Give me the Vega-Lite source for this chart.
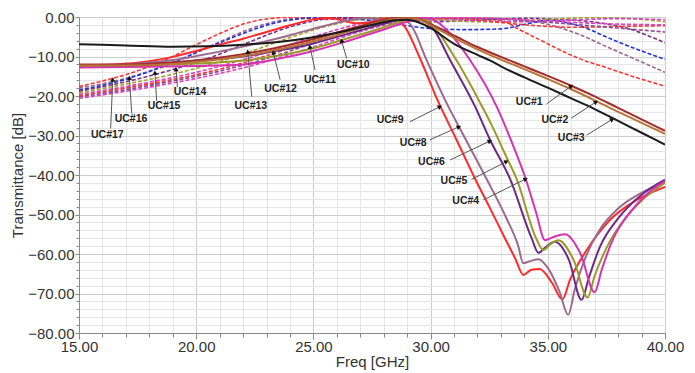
{
  "$schema": "https://vega.github.io/schema/vega-lite/v6.json",
  "width": 586,
  "height": 316,
  "autosize": {"type": "none"},
  "padding": {"left": 79, "top": 17, "right": 30, "bottom": 40},
  "background": "white",
  "config": {"font": "Liberation Sans", "view": {"stroke": "#a8a8a8", "strokeWidth": 1},
    "axis": {"labelOverlap": false, "labelFlush": false, "labelBound": false, "labelFontSize": 15, "labelColor": "#333", "titleFontSize": 15, "titleFontWeight": "normal", "titleColor": "#333", "domainColor": "#8a8a8a", "tickColor": "#8a8a8a", "grid": true}},
  "datasets": {
    "solid": [
      {"s":"UC#9","f":15,"t":-12.2},{"s":"UC#9","f":16.5,"t":-12},{"s":"UC#9","f":18,"t":-11.2},{"s":"UC#9","f":19,"t":-10.1},{"s":"UC#9","f":20,"t":-8.6},{"s":"UC#9","f":21,"t":-7},{"s":"UC#9","f":22,"t":-5.5},{"s":"UC#9","f":23,"t":-3.8},{"s":"UC#9","f":24,"t":-2.1},{"s":"UC#9","f":25,"t":-0.6},{"s":"UC#9","f":25.6,"t":-0.2},{"s":"UC#9","f":26.2,"t":-0.8},{"s":"UC#9","f":26.8,"t":-1.6},{"s":"UC#9","f":27.4,"t":-1.4},{"s":"UC#9","f":28,"t":-0.4},{"s":"UC#9","f":28.5,"t":-0.5},{"s":"UC#9","f":28.9,"t":-2.5},{"s":"UC#9","f":29.55,"t":-10.5},{"s":"UC#9","f":30.33,"t":-21.5},{"s":"UC#9","f":31.1,"t":-31},{"s":"UC#9","f":31.9,"t":-41},{"s":"UC#9","f":32.5,"t":-48},{"s":"UC#9","f":33.17,"t":-56},{"s":"UC#9","f":33.6,"t":-61},{"s":"UC#9","f":33.96,"t":-65.3},{"s":"UC#9","f":34.3,"t":-64},{"s":"UC#9","f":34.65,"t":-63.8},{"s":"UC#9","f":35.2,"t":-67.5},{"s":"UC#9","f":35.62,"t":-71.5},{"s":"UC#9","f":35.95,"t":-66.5},{"s":"UC#9","f":36.66,"t":-59},{"s":"UC#9","f":37.65,"t":-51.4},{"s":"UC#9","f":38.8,"t":-46.3},{"s":"UC#9","f":40,"t":-43},
      {"s":"UC#8","f":15,"t":-12.3},{"s":"UC#8","f":17,"t":-12},{"s":"UC#8","f":19,"t":-10.9},{"s":"UC#8","f":20,"t":-9.9},{"s":"UC#8","f":22,"t":-7.5},{"s":"UC#8","f":24,"t":-4.6},{"s":"UC#8","f":25.5,"t":-2.2},{"s":"UC#8","f":26.5,"t":-0.8},{"s":"UC#8","f":27.2,"t":-0.2},{"s":"UC#8","f":27.8,"t":-0.7},{"s":"UC#8","f":28.4,"t":-0.4},{"s":"UC#8","f":28.9,"t":-0.7},{"s":"UC#8","f":29.2,"t":-2.4},{"s":"UC#8","f":29.83,"t":-10.9},{"s":"UC#8","f":30.76,"t":-22.7},{"s":"UC#8","f":31.21,"t":-27.8},{"s":"UC#8","f":32.39,"t":-41},{"s":"UC#8","f":33.2,"t":-50.5},{"s":"UC#8","f":33.74,"t":-58},{"s":"UC#8","f":33.95,"t":-62.3},{"s":"UC#8","f":34.25,"t":-61.8},{"s":"UC#8","f":34.6,"t":-61.3},{"s":"UC#8","f":35,"t":-63.5},{"s":"UC#8","f":35.5,"t":-69.5},{"s":"UC#8","f":35.87,"t":-75.4},{"s":"UC#8","f":36.15,"t":-69},{"s":"UC#8","f":36.6,"t":-61},{"s":"UC#8","f":37.2,"t":-54},{"s":"UC#8","f":38,"t":-48.5},{"s":"UC#8","f":39,"t":-44.5},{"s":"UC#8","f":40,"t":-41.8},
      {"s":"UC#6","f":15,"t":-12.5},{"s":"UC#6","f":18,"t":-12},{"s":"UC#6","f":20,"t":-11},{"s":"UC#6","f":22,"t":-10},{"s":"UC#6","f":23.5,"t":-8.5},{"s":"UC#6","f":25,"t":-6.7},{"s":"UC#6","f":26.5,"t":-4.2},{"s":"UC#6","f":27.84,"t":-2},{"s":"UC#6","f":28.8,"t":-0.6},{"s":"UC#6","f":29.3,"t":-0.2},{"s":"UC#6","f":29.7,"t":-0.9},{"s":"UC#6","f":30.1,"t":-2.9},{"s":"UC#6","f":30.83,"t":-10.9},{"s":"UC#6","f":31.9,"t":-22.7},{"s":"UC#6","f":32.53,"t":-31},{"s":"UC#6","f":33.39,"t":-41},{"s":"UC#6","f":34.31,"t":-56},{"s":"UC#6","f":34.6,"t":-59.7},{"s":"UC#6","f":34.9,"t":-58.3},{"s":"UC#6","f":35.3,"t":-56.9},{"s":"UC#6","f":35.9,"t":-61.5},{"s":"UC#6","f":36.44,"t":-71.6},{"s":"UC#6","f":36.75,"t":-66},{"s":"UC#6","f":37.2,"t":-58.5},{"s":"UC#6","f":38,"t":-51},{"s":"UC#6","f":39,"t":-45},{"s":"UC#6","f":40,"t":-41.2},
      {"s":"UC#5","f":15,"t":-12.5},{"s":"UC#5","f":18,"t":-12.2},{"s":"UC#5","f":20,"t":-11.8},{"s":"UC#5","f":22,"t":-11},{"s":"UC#5","f":23.5,"t":-9.8},{"s":"UC#5","f":25,"t":-7.9},{"s":"UC#5","f":26.5,"t":-5.3},{"s":"UC#5","f":27.84,"t":-2.9},{"s":"UC#5","f":28.8,"t":-1},{"s":"UC#5","f":29.4,"t":-0.2},{"s":"UC#5","f":29.9,"t":-1},{"s":"UC#5","f":30.26,"t":-3.3},{"s":"UC#5","f":31.1,"t":-10.9},{"s":"UC#5","f":32.2,"t":-22.7},{"s":"UC#5","f":32.6,"t":-27.3},{"s":"UC#5","f":33.24,"t":-35.5},{"s":"UC#5","f":33.67,"t":-41},{"s":"UC#5","f":34.5,"t":-56},{"s":"UC#5","f":34.8,"t":-59},{"s":"UC#5","f":35.1,"t":-57.6},{"s":"UC#5","f":35.45,"t":-56.5},{"s":"UC#5","f":36.1,"t":-61.5},{"s":"UC#5","f":36.7,"t":-71},{"s":"UC#5","f":37,"t":-65.5},{"s":"UC#5","f":37.5,"t":-58.5},{"s":"UC#5","f":38.3,"t":-51},{"s":"UC#5","f":39,"t":-46.5},{"s":"UC#5","f":40,"t":-42},
      {"s":"UC#4","f":15,"t":-12.8},{"s":"UC#4","f":18,"t":-12.6},{"s":"UC#4","f":20,"t":-12.4},{"s":"UC#4","f":22,"t":-12},{"s":"UC#4","f":23.5,"t":-10.6},{"s":"UC#4","f":25,"t":-8.6},{"s":"UC#4","f":26.5,"t":-6},{"s":"UC#4","f":27.84,"t":-3.5},{"s":"UC#4","f":29,"t":-1.2},{"s":"UC#4","f":29.7,"t":-0.2},{"s":"UC#4","f":30.2,"t":-0.9},{"s":"UC#4","f":30.69,"t":-3.3},{"s":"UC#4","f":31.68,"t":-10.9},{"s":"UC#4","f":32.82,"t":-22.7},{"s":"UC#4","f":33.45,"t":-31.5},{"s":"UC#4","f":34.06,"t":-41},{"s":"UC#4","f":34.5,"t":-49.5},{"s":"UC#4","f":34.88,"t":-56.5},{"s":"UC#4","f":35.2,"t":-55.8},{"s":"UC#4","f":35.73,"t":-55},{"s":"UC#4","f":36.4,"t":-60},{"s":"UC#4","f":37,"t":-69.7},{"s":"UC#4","f":37.3,"t":-64},{"s":"UC#4","f":37.8,"t":-56},{"s":"UC#4","f":38.5,"t":-49.5},{"s":"UC#4","f":39.2,"t":-45},{"s":"UC#4","f":40,"t":-41.5},
      {"s":"UC#1","f":15,"t":-12},{"s":"UC#1","f":17,"t":-12},{"s":"UC#1","f":19,"t":-11.5},{"s":"UC#1","f":20.5,"t":-10.6},{"s":"UC#1","f":22,"t":-9.4},{"s":"UC#1","f":24,"t":-7},{"s":"UC#1","f":25.5,"t":-4.8},{"s":"UC#1","f":26.8,"t":-2.6},{"s":"UC#1","f":27.8,"t":-1},{"s":"UC#1","f":28.6,"t":-0.2},{"s":"UC#1","f":29.3,"t":-0.3},{"s":"UC#1","f":30,"t":-1.8},{"s":"UC#1","f":31.1,"t":-5},{"s":"UC#1","f":32,"t":-7.6},{"s":"UC#1","f":33,"t":-10.1},{"s":"UC#1","f":34,"t":-12.5},{"s":"UC#1","f":35,"t":-14.9},{"s":"UC#1","f":36,"t":-17.4},{"s":"UC#1","f":37,"t":-20.1},{"s":"UC#1","f":38,"t":-23},{"s":"UC#1","f":39,"t":-25.9},{"s":"UC#1","f":40,"t":-28.8},
      {"s":"UC#2","f":15,"t":-12.3},{"s":"UC#2","f":17,"t":-12.3},{"s":"UC#2","f":19,"t":-11.9},{"s":"UC#2","f":20.5,"t":-11.1},{"s":"UC#2","f":22,"t":-9.9},{"s":"UC#2","f":24,"t":-7.6},{"s":"UC#2","f":25.5,"t":-5.4},{"s":"UC#2","f":26.8,"t":-3.1},{"s":"UC#2","f":27.8,"t":-1.4},{"s":"UC#2","f":28.6,"t":-0.4},{"s":"UC#2","f":29.3,"t":-0.4},{"s":"UC#2","f":30,"t":-2.1},{"s":"UC#2","f":31.1,"t":-5.6},{"s":"UC#2","f":32,"t":-8.2},{"s":"UC#2","f":33,"t":-10.8},{"s":"UC#2","f":34,"t":-13.2},{"s":"UC#2","f":35,"t":-15.7},{"s":"UC#2","f":36,"t":-18.3},{"s":"UC#2","f":37,"t":-21.1},{"s":"UC#2","f":38,"t":-24},{"s":"UC#2","f":39,"t":-26.8},{"s":"UC#2","f":40,"t":-29.6},
      {"s":"UC#3","f":15,"t":-6.9},{"s":"UC#3","f":17,"t":-7.2},{"s":"UC#3","f":19,"t":-7.5},{"s":"UC#3","f":20.5,"t":-7.4},{"s":"UC#3","f":22,"t":-7},{"s":"UC#3","f":23.5,"t":-6.3},{"s":"UC#3","f":25,"t":-5.1},{"s":"UC#3","f":26.3,"t":-3.6},{"s":"UC#3","f":27.5,"t":-2},{"s":"UC#3","f":28.5,"t":-0.8},{"s":"UC#3","f":29,"t":-0.7},{"s":"UC#3","f":29.5,"t":-1.4},{"s":"UC#3","f":30,"t":-2.8},{"s":"UC#3","f":31,"t":-6.8},{"s":"UC#3","f":32,"t":-9.6},{"s":"UC#3","f":32.53,"t":-11},{"s":"UC#3","f":33,"t":-12.5},{"s":"UC#3","f":34,"t":-15.3},{"s":"UC#3","f":35,"t":-17.9},{"s":"UC#3","f":36,"t":-20.6},{"s":"UC#3","f":37,"t":-23.3},{"s":"UC#3","f":38,"t":-26.3},{"s":"UC#3","f":39,"t":-29.3},{"s":"UC#3","f":40,"t":-32.3}
    ],
    "dashed": [
      {"s":"UC#17","f":15,"t":-17.6},{"s":"UC#17","f":16,"t":-16.2},{"s":"UC#17","f":17,"t":-14.6},{"s":"UC#17","f":18,"t":-12.5},{"s":"UC#17","f":19,"t":-10},{"s":"UC#17","f":20,"t":-7},{"s":"UC#17","f":21,"t":-4.2},{"s":"UC#17","f":22,"t":-1.8},{"s":"UC#17","f":23,"t":-0.5},{"s":"UC#17","f":24,"t":-0.1},{"s":"UC#17","f":25.5,"t":-0.6},{"s":"UC#17","f":27,"t":-0.2},{"s":"UC#17","f":29,"t":-0.7},{"s":"UC#17","f":31,"t":-0.3},{"s":"UC#17","f":32.5,"t":-0.6},{"s":"UC#17","f":33.2,"t":-1.2},{"s":"UC#17","f":33.7,"t":-2.9},{"s":"UC#17","f":34.7,"t":-5.9},{"s":"UC#17","f":35.5,"t":-8.3},{"s":"UC#17","f":36.37,"t":-10.6},{"s":"UC#17","f":37.5,"t":-12.8},{"s":"UC#17","f":38.7,"t":-15.2},{"s":"UC#17","f":40,"t":-17.5},
      {"s":"UC#16","f":15,"t":-18},{"s":"UC#16","f":16,"t":-16.9},{"s":"UC#16","f":17,"t":-15.5},{"s":"UC#16","f":18,"t":-13.7},{"s":"UC#16","f":19,"t":-11.5},{"s":"UC#16","f":20,"t":-9},{"s":"UC#16","f":21,"t":-6.3},{"s":"UC#16","f":22,"t":-3.7},{"s":"UC#16","f":23,"t":-1.7},{"s":"UC#16","f":24,"t":-0.5},{"s":"UC#16","f":25,"t":-0.1},{"s":"UC#16","f":26.5,"t":-0.7},{"s":"UC#16","f":28,"t":-0.2},{"s":"UC#16","f":30,"t":-0.8},{"s":"UC#16","f":32,"t":-0.3},{"s":"UC#16","f":34,"t":-0.8},{"s":"UC#16","f":35.4,"t":-2.5},{"s":"UC#16","f":36.5,"t":-4.8},{"s":"UC#16","f":37.5,"t":-7.5},{"s":"UC#16","f":38.7,"t":-10.6},{"s":"UC#16","f":40,"t":-14},
      {"s":"UC#15","f":15,"t":-18.5},{"s":"UC#15","f":16.5,"t":-16.6},{"s":"UC#15","f":18,"t":-13.8},{"s":"UC#15","f":19,"t":-11.6},{"s":"UC#15","f":20,"t":-9},{"s":"UC#15","f":21.3,"t":-5.8},{"s":"UC#15","f":22.3,"t":-3.5},{"s":"UC#15","f":23.3,"t":-1.6},{"s":"UC#15","f":24.5,"t":-0.4},{"s":"UC#15","f":25.5,"t":-0.1},{"s":"UC#15","f":27,"t":-0.6},{"s":"UC#15","f":28.5,"t":-1.8},{"s":"UC#15","f":30,"t":-2.9},{"s":"UC#15","f":31.5,"t":-3.2},{"s":"UC#15","f":33,"t":-3},{"s":"UC#15","f":34.2,"t":-1.6},{"s":"UC#15","f":35.1,"t":-0.8},{"s":"UC#15","f":36,"t":-1.7},{"s":"UC#15","f":36.8,"t":-3.2},{"s":"UC#15","f":37.4,"t":-4.8},{"s":"UC#15","f":38.2,"t":-6.8},{"s":"UC#15","f":39,"t":-8.6},{"s":"UC#15","f":40,"t":-10.7},
      {"s":"UC#14","f":15,"t":-18.8},{"s":"UC#14","f":17,"t":-16.4},{"s":"UC#14","f":19,"t":-13.3},{"s":"UC#14","f":20,"t":-11.5},{"s":"UC#14","f":21,"t":-9.4},{"s":"UC#14","f":22,"t":-7},{"s":"UC#14","f":23,"t":-4.6},{"s":"UC#14","f":24,"t":-2.5},{"s":"UC#14","f":25,"t":-1},{"s":"UC#14","f":26,"t":-0.2},{"s":"UC#14","f":27,"t":-0.1},{"s":"UC#14","f":28.5,"t":-0.6},{"s":"UC#14","f":30,"t":-1.2},{"s":"UC#14","f":32,"t":-0.8},{"s":"UC#14","f":34,"t":-0.3},{"s":"UC#14","f":35.5,"t":-0.6},{"s":"UC#14","f":37,"t":-1.3},{"s":"UC#14","f":38,"t":-2.3},{"s":"UC#14","f":38.65,"t":-3.3},{"s":"UC#14","f":39.3,"t":-4.8},{"s":"UC#14","f":40,"t":-6.5},
      {"s":"UC#13","f":15,"t":-19.2},{"s":"UC#13","f":17,"t":-17},{"s":"UC#13","f":19,"t":-14.5},{"s":"UC#13","f":20,"t":-13},{"s":"UC#13","f":21,"t":-11.3},{"s":"UC#13","f":22,"t":-9.4},{"s":"UC#13","f":23,"t":-7.3},{"s":"UC#13","f":24,"t":-5.2},{"s":"UC#13","f":25,"t":-3.3},{"s":"UC#13","f":26,"t":-1.7},{"s":"UC#13","f":27,"t":-0.6},{"s":"UC#13","f":28,"t":-0.1},{"s":"UC#13","f":29.5,"t":-0.3},{"s":"UC#13","f":31,"t":-1},{"s":"UC#13","f":33,"t":-1.3},{"s":"UC#13","f":35,"t":-0.6},{"s":"UC#13","f":37,"t":-0.2},{"s":"UC#13","f":38.5,"t":-0.4},{"s":"UC#13","f":40,"t":-1.2},
      {"s":"UC#7","f":15,"t":-19.6},{"s":"UC#7","f":17,"t":-17.6},{"s":"UC#7","f":19,"t":-15.3},{"s":"UC#7","f":20,"t":-14},{"s":"UC#7","f":21,"t":-12.5},{"s":"UC#7","f":22,"t":-10.8},{"s":"UC#7","f":23,"t":-9},{"s":"UC#7","f":24,"t":-7},{"s":"UC#7","f":25,"t":-5},{"s":"UC#7","f":26,"t":-3.2},{"s":"UC#7","f":27,"t":-1.7},{"s":"UC#7","f":28,"t":-0.6},{"s":"UC#7","f":29,"t":-0.1},{"s":"UC#7","f":30.5,"t":-0.3},{"s":"UC#7","f":32,"t":-0.9},{"s":"UC#7","f":34,"t":-1.2},{"s":"UC#7","f":36,"t":-0.8},{"s":"UC#7","f":38,"t":-0.4},{"s":"UC#7","f":40,"t":-0.7},
      {"s":"UC#12","f":15,"t":-20},{"s":"UC#12","f":17,"t":-18},{"s":"UC#12","f":19,"t":-15.8},{"s":"UC#12","f":20,"t":-14.6},{"s":"UC#12","f":21,"t":-13.2},{"s":"UC#12","f":22,"t":-11.6},{"s":"UC#12","f":23,"t":-9.8},{"s":"UC#12","f":24,"t":-7.8},{"s":"UC#12","f":25,"t":-5.8},{"s":"UC#12","f":26,"t":-3.9},{"s":"UC#12","f":27,"t":-2.3},{"s":"UC#12","f":28,"t":-1.1},{"s":"UC#12","f":29,"t":-0.3},{"s":"UC#12","f":30,"t":-0.1},{"s":"UC#12","f":31.5,"t":-0.5},{"s":"UC#12","f":33,"t":-1.4},{"s":"UC#12","f":34.5,"t":-2.2},{"s":"UC#12","f":36,"t":-2.6},{"s":"UC#12","f":38,"t":-2.4},{"s":"UC#12","f":40,"t":-2.2},
      {"s":"UC#11","f":15,"t":-20.3},{"s":"UC#11","f":17,"t":-18.4},{"s":"UC#11","f":19,"t":-16.2},{"s":"UC#11","f":20,"t":-15},{"s":"UC#11","f":21,"t":-13.7},{"s":"UC#11","f":22,"t":-12.2},{"s":"UC#11","f":23,"t":-10.5},{"s":"UC#11","f":24,"t":-8.6},{"s":"UC#11","f":25,"t":-6.6},{"s":"UC#11","f":26,"t":-4.6},{"s":"UC#11","f":27,"t":-2.8},{"s":"UC#11","f":28,"t":-1.4},{"s":"UC#11","f":29,"t":-0.5},{"s":"UC#11","f":30,"t":-0.1},{"s":"UC#11","f":32,"t":-0.3},{"s":"UC#11","f":34,"t":-0.9},{"s":"UC#11","f":36,"t":-1.8},{"s":"UC#11","f":38,"t":-2.8},{"s":"UC#11","f":40,"t":-3.8},
      {"s":"UC#10","f":15,"t":-20.6},{"s":"UC#10","f":17,"t":-18.8},{"s":"UC#10","f":19,"t":-16.7},{"s":"UC#10","f":21,"t":-14.3},{"s":"UC#10","f":23,"t":-11.3},{"s":"UC#10","f":24,"t":-9.5},{"s":"UC#10","f":25,"t":-7.6},{"s":"UC#10","f":26,"t":-5.6},{"s":"UC#10","f":27,"t":-3.7},{"s":"UC#10","f":28,"t":-2.1},{"s":"UC#10","f":29,"t":-1},{"s":"UC#10","f":30,"t":-0.3},{"s":"UC#10","f":31,"t":-0.1},{"s":"UC#10","f":33,"t":-0.4},{"s":"UC#10","f":35,"t":-1},{"s":"UC#10","f":37,"t":-1.6},{"s":"UC#10","f":40,"t":-2}
    ],
    "notes": [
      {"label":"UC#1","tx":34.21,"ty":-21.6,"ax":34.95,"ay":-22,"bx":36.0,"by":-17.5},
      {"label":"UC#2","tx":35.3,"ty":-26.1,"ax":36.0,"ay":-25.6,"bx":37.06,"by":-21.5},
      {"label":"UC#3","tx":36.0,"ty":-30.6,"ax":36.66,"ay":-29.9,"bx":37.75,"by":-25.9},
      {"label":"UC#9","tx":28.27,"ty":-26.2,"ax":29.12,"ay":-26.5,"bx":30.4,"by":-22.7},
      {"label":"UC#8","tx":29.26,"ty":-31.8,"ax":29.97,"ay":-31.1,"bx":31.21,"by":-27.8},
      {"label":"UC#6","tx":30.04,"ty":-36.8,"ax":30.83,"ay":-36.2,"bx":32.53,"by":-31.4},
      {"label":"UC#5","tx":31.0,"ty":-41.4,"ax":31.75,"ay":-41.1,"bx":33.24,"by":-36.6},
      {"label":"UC#4","tx":31.5,"ty":-46.6,"ax":32.25,"ay":-46.3,"bx":34.06,"by":-41},
      {"label":"UC#10","tx":26.7,"ty":-12.2,"ax":26.42,"ay":-10.5,"bx":26.2,"by":-6},
      {"label":"UC#11","tx":25.28,"ty":-15.9,"ax":25.07,"ay":-13.4,"bx":24.85,"by":-7.5},
      {"label":"UC#12","tx":23.6,"ty":-18.3,"ax":23.58,"ay":-15.9,"bx":23.29,"by":-9},
      {"label":"UC#13","tx":22.33,"ty":-22.5,"ax":22.37,"ay":-20.2,"bx":22.2,"by":-8.8},
      {"label":"UC#14","tx":19.74,"ty":-19.1,"ax":19.2,"ay":-17.8,"bx":19.14,"by":-13.2},
      {"label":"UC#15","tx":18.63,"ty":-22.5,"ax":18.31,"ay":-21.2,"bx":18.24,"by":-14.1},
      {"label":"UC#16","tx":17.22,"ty":-25.9,"ax":17.25,"ay":-24.4,"bx":17.15,"by":-15.4},
      {"label":"UC#17","tx":16.21,"ty":-29.9,"ax":16.35,"ay":-28.2,"bx":16.44,"by":-15.8}
    ]
  },
  "layer": [
    {
      "data": {"name": "dashed"},
      "mark": {"type": "line", "interpolate": "monotone", "strokeDash": [4, 2], "strokeWidth": 1.6, "clip": true},
      "encoding": {
        "x": {"field": "f", "type": "quantitative", "scale": {"domain": [15, 40], "nice": false, "zero": false},
          "axis": {"title": "Freq [GHz]", "values": [15,16,17,18,19,20,21,22,23,24,25,26,27,28,29,30,31,32,33,34,35,36,37,38,39,40],
            "labelExpr": "datum.value % 5 === 0 ? format(datum.value, '.2f') : ''", "labelPadding": 0, "titlePadding": 0,
            "tickSize": {"condition": {"test": "datum.value % 5 === 0", "value": 6}, "value": 4},
            "gridColor": {"condition": {"test": "datum.value % 5 === 0", "value": "#cdcdcd"}, "value": "#e6e6e6"}}},
        "y": {"field": "t", "type": "quantitative", "scale": {"domain": [-80, 0], "nice": false, "zero": false},
          "axis": {"title": "Transmittance [dB]", "values": [-80,-78,-76,-74,-72,-70,-68,-66,-64,-62,-60,-58,-56,-54,-52,-50,-48,-46,-44,-42,-40,-38,-36,-34,-32,-30,-28,-26,-24,-22,-20,-18,-16,-14,-12,-10,-8,-6,-4,-2,0],
            "labelExpr": "datum.value % 10 === 0 ? format(datum.value, '.2f') : ''", "labelPadding": 1, "titlePadding": 2,
            "tickSize": {"condition": {"test": "datum.value % 10 === 0", "value": 4}, "value": 3},
            "gridColor": {"condition": {"test": "datum.value % 10 === 0", "value": "#cdcdcd"}, "value": "#e6e6e6"}}},
        "color": {"field": "s", "type": "nominal", "legend": null,
          "scale": {"domain": ["UC#1","UC#2","UC#3","UC#4","UC#5","UC#6","UC#8","UC#9","UC#17","UC#16","UC#15","UC#14","UC#13","UC#7","UC#12","UC#11","UC#10"],
                    "range": ["#a52a2a","#b8733a","#1a1a1a","#d633b0","#9a9a2a","#6b2b84","#9b6b8f","#ff2b2b","#ff3333","#a0688f","#2233dd","#7b2f88","#a3a330","#e040c0","#ff3333","#8a4a90","#e040c0"]}},
        "detail": {"field": "s"},
        "order": {"field": "f", "type": "quantitative"}
      }
    },
    {
      "data": {"name": "solid"},
      "mark": {"type": "line", "interpolate": "monotone", "strokeWidth": 2, "clip": true},
      "encoding": {
        "x": {"field": "f", "type": "quantitative",
          "axis": {"title": "Freq [GHz]", "values": [15,16,17,18,19,20,21,22,23,24,25,26,27,28,29,30,31,32,33,34,35,36,37,38,39,40],
            "labelExpr": "datum.value % 5 === 0 ? format(datum.value, '.2f') : ''", "labelPadding": 0, "titlePadding": 0,
            "tickSize": {"condition": {"test": "datum.value % 5 === 0", "value": 6}, "value": 4},
            "gridColor": {"condition": {"test": "datum.value % 5 === 0", "value": "#cdcdcd"}, "value": "#e6e6e6"}}},
        "y": {"field": "t", "type": "quantitative",
          "axis": {"title": "Transmittance [dB]", "values": [-80,-78,-76,-74,-72,-70,-68,-66,-64,-62,-60,-58,-56,-54,-52,-50,-48,-46,-44,-42,-40,-38,-36,-34,-32,-30,-28,-26,-24,-22,-20,-18,-16,-14,-12,-10,-8,-6,-4,-2,0],
            "labelExpr": "datum.value % 10 === 0 ? format(datum.value, '.2f') : ''", "labelPadding": 1, "titlePadding": 2,
            "tickSize": {"condition": {"test": "datum.value % 10 === 0", "value": 4}, "value": 3},
            "gridColor": {"condition": {"test": "datum.value % 10 === 0", "value": "#cdcdcd"}, "value": "#e6e6e6"}}},
        "color": {"field": "s", "type": "nominal", "legend": null,
          "scale": {"domain": ["UC#1","UC#2","UC#3","UC#4","UC#5","UC#6","UC#8","UC#9","UC#17","UC#16","UC#15","UC#14","UC#13","UC#7","UC#12","UC#11","UC#10"],
                    "range": ["#a52a2a","#b8733a","#1a1a1a","#d633b0","#9a9a2a","#6b2b84","#9b6b8f","#ff2b2b","#ff3333","#a0688f","#2233dd","#7b2f88","#a3a330","#e040c0","#ff3333","#8a4a90","#e040c0"]}},
        "detail": {"field": "s"},
        "order": {"field": "f", "type": "quantitative"}
      }
    },
    {
      "data": {"name": "notes"},
      "mark": {"type": "rule", "color": "#555555", "strokeWidth": 1},
      "encoding": {
        "x": {"field": "ax", "type": "quantitative",
          "axis": {"title": "Freq [GHz]", "values": [15,16,17,18,19,20,21,22,23,24,25,26,27,28,29,30,31,32,33,34,35,36,37,38,39,40],
            "labelExpr": "datum.value % 5 === 0 ? format(datum.value, '.2f') : ''", "labelPadding": 0, "titlePadding": 0,
            "tickSize": {"condition": {"test": "datum.value % 5 === 0", "value": 6}, "value": 4},
            "gridColor": {"condition": {"test": "datum.value % 5 === 0", "value": "#cdcdcd"}, "value": "#e6e6e6"}}},
        "y": {"field": "ay", "type": "quantitative",
          "axis": {"title": "Transmittance [dB]", "values": [-80,-78,-76,-74,-72,-70,-68,-66,-64,-62,-60,-58,-56,-54,-52,-50,-48,-46,-44,-42,-40,-38,-36,-34,-32,-30,-28,-26,-24,-22,-20,-18,-16,-14,-12,-10,-8,-6,-4,-2,0],
            "labelExpr": "datum.value % 10 === 0 ? format(datum.value, '.2f') : ''", "labelPadding": 1, "titlePadding": 2,
            "tickSize": {"condition": {"test": "datum.value % 10 === 0", "value": 4}, "value": 3},
            "gridColor": {"condition": {"test": "datum.value % 10 === 0", "value": "#cdcdcd"}, "value": "#e6e6e6"}}},
        "x2": {"field": "bx"},
        "y2": {"field": "by"}
      }
    },
    {
      "data": {"name": "notes"},
      "transform": [{"calculate": "atan2((datum.bx - datum.ax) * 23.44, (datum.by - datum.ay) * 3.95) * 180 / PI", "as": "ang"}],
      "mark": {"type": "point", "shape": "triangle-up", "filled": true, "color": "#111111", "size": 26, "opacity": 1},
      "encoding": {
        "x": {"field": "bx", "type": "quantitative",
          "axis": {"title": "Freq [GHz]", "values": [15,16,17,18,19,20,21,22,23,24,25,26,27,28,29,30,31,32,33,34,35,36,37,38,39,40],
            "labelExpr": "datum.value % 5 === 0 ? format(datum.value, '.2f') : ''", "labelPadding": 0, "titlePadding": 0,
            "tickSize": {"condition": {"test": "datum.value % 5 === 0", "value": 6}, "value": 4},
            "gridColor": {"condition": {"test": "datum.value % 5 === 0", "value": "#cdcdcd"}, "value": "#e6e6e6"}}},
        "y": {"field": "by", "type": "quantitative",
          "axis": {"title": "Transmittance [dB]", "values": [-80,-78,-76,-74,-72,-70,-68,-66,-64,-62,-60,-58,-56,-54,-52,-50,-48,-46,-44,-42,-40,-38,-36,-34,-32,-30,-28,-26,-24,-22,-20,-18,-16,-14,-12,-10,-8,-6,-4,-2,0],
            "labelExpr": "datum.value % 10 === 0 ? format(datum.value, '.2f') : ''", "labelPadding": 1, "titlePadding": 2,
            "tickSize": {"condition": {"test": "datum.value % 10 === 0", "value": 4}, "value": 3},
            "gridColor": {"condition": {"test": "datum.value % 10 === 0", "value": "#cdcdcd"}, "value": "#e6e6e6"}}},
        "angle": {"field": "ang", "type": "quantitative", "scale": null}
      }
    },
    {
      "data": {"name": "notes"},
      "mark": {"type": "text", "fontSize": 10.5, "fontWeight": "bold", "color": "#222222", "align": "center", "baseline": "middle"},
      "encoding": {
        "x": {"field": "tx", "type": "quantitative",
          "axis": {"title": "Freq [GHz]", "values": [15,16,17,18,19,20,21,22,23,24,25,26,27,28,29,30,31,32,33,34,35,36,37,38,39,40],
            "labelExpr": "datum.value % 5 === 0 ? format(datum.value, '.2f') : ''", "labelPadding": 0, "titlePadding": 0,
            "tickSize": {"condition": {"test": "datum.value % 5 === 0", "value": 6}, "value": 4},
            "gridColor": {"condition": {"test": "datum.value % 5 === 0", "value": "#cdcdcd"}, "value": "#e6e6e6"}}},
        "y": {"field": "ty", "type": "quantitative",
          "axis": {"title": "Transmittance [dB]", "values": [-80,-78,-76,-74,-72,-70,-68,-66,-64,-62,-60,-58,-56,-54,-52,-50,-48,-46,-44,-42,-40,-38,-36,-34,-32,-30,-28,-26,-24,-22,-20,-18,-16,-14,-12,-10,-8,-6,-4,-2,0],
            "labelExpr": "datum.value % 10 === 0 ? format(datum.value, '.2f') : ''", "labelPadding": 1, "titlePadding": 2,
            "tickSize": {"condition": {"test": "datum.value % 10 === 0", "value": 4}, "value": 3},
            "gridColor": {"condition": {"test": "datum.value % 10 === 0", "value": "#cdcdcd"}, "value": "#e6e6e6"}}},
        "text": {"field": "label"}
      }
    }
  ]
}
